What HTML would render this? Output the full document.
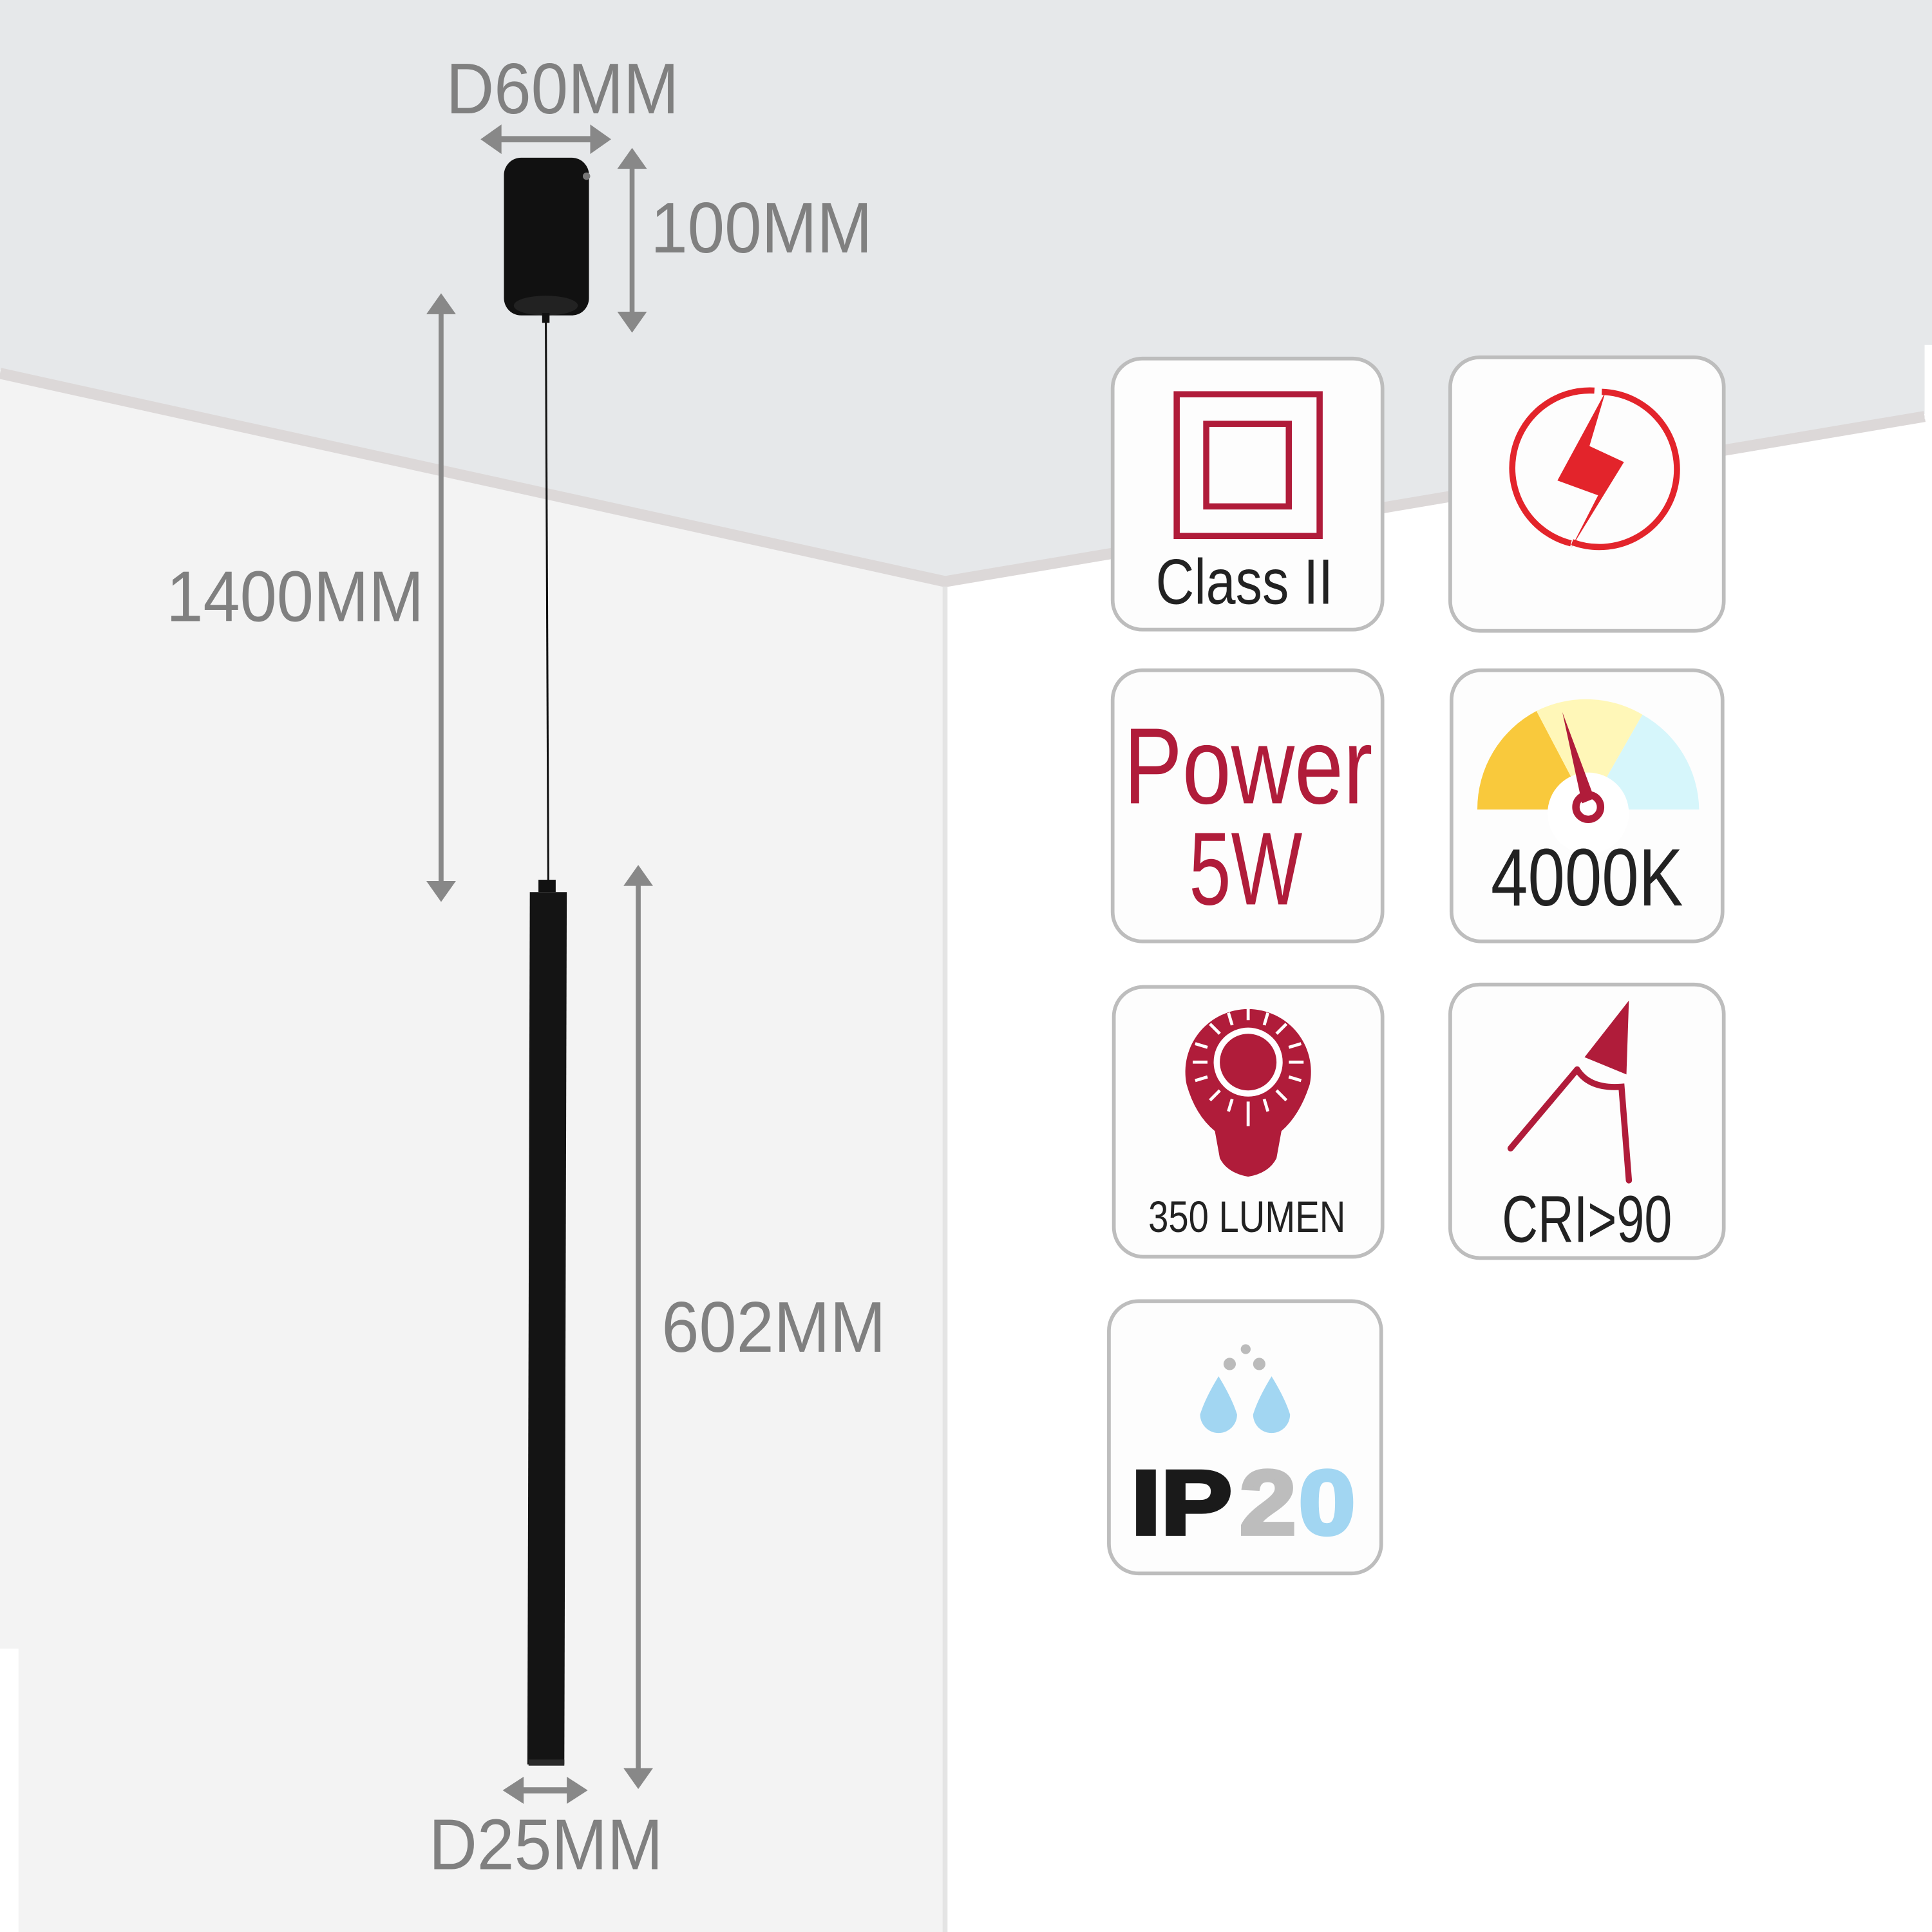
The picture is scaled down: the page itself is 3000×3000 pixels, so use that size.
<!DOCTYPE html>
<html><head><style>html,body{margin:0;padding:0;background:#fff}svg{display:block}</style></head><body>
<svg xmlns="http://www.w3.org/2000/svg" width="3000" height="3000" viewBox="0 0 1568 1568">
<rect width="1568" height="1568" fill="#ffffff"/>
<polygon points="0,0 1568,0 1568,335 767,470 0,300" fill="#e6e8ea"/>
<polygon points="0,300 767,470 767,1568 0,1568" fill="#f3f3f3"/>
<polyline points="0,303 767,472 1562,338" fill="none" stroke="#dcd8d8" stroke-width="9"/>
<line x1="767" y1="476" x2="767" y2="1568" stroke="#e4e4e4" stroke-width="4"/>
<rect x="1562" y="280" width="6" height="60" fill="#fff"/>
<rect x="0" y="1338" width="15" height="230" fill="#fff"/>

<!-- lamp -->
<rect x="409" y="128" width="69" height="128" rx="14" fill="#111"/>
<circle cx="476" cy="143" r="3" fill="#777"/>
<ellipse cx="443" cy="248" rx="26" ry="8" fill="#222"/>
<rect x="440" y="254" width="6" height="8" fill="#111"/>
<line x1="443" y1="260" x2="445" y2="716" stroke="#111" stroke-width="1.6"/>
<rect x="437" y="714" width="14" height="10" fill="#111"/>
<polygon points="430,724 460,724 458,1432 428,1432" fill="#141414"/>
<rect x="429" y="1428" width="29" height="5" fill="#2a2a2a"/>

<!-- arrows -->
<g fill="#888" stroke="#888">
<line x1="400" y1="113" x2="486" y2="113" stroke-width="5"/>
<polygon points="390,113 407,101 407,125" stroke="none"/><polygon points="496,113 479,101 479,125" stroke="none"/>
<line x1="513" y1="132" x2="513" y2="258" stroke-width="4"/>
<polygon points="513,120 501,137 525,137" stroke="none"/><polygon points="513,270 501,253 525,253" stroke="none"/>
<line x1="358" y1="250" x2="358" y2="720" stroke-width="4"/>
<polygon points="358,238 346,255 370,255" stroke="none"/><polygon points="358,732 346,715 370,715" stroke="none"/>
<line x1="518" y1="714" x2="518" y2="1440" stroke-width="4"/>
<polygon points="518,702 506,719 530,719" stroke="none"/><polygon points="518,1452 506,1435 530,1435" stroke="none"/>
<line x1="418" y1="1453" x2="467" y2="1453" stroke-width="5"/>
<polygon points="408,1453 425,1442 425,1464" stroke="none"/><polygon points="477,1453 460,1442 460,1464" stroke="none"/>
</g>
<g fill="#808080" font-family="Liberation Sans Narrow, Liberation Sans, sans-serif" font-size="58">
<text x="362" y="92" textLength="189" lengthAdjust="spacingAndGlyphs">D60MM</text>
<text x="528" y="205" textLength="180" lengthAdjust="spacingAndGlyphs">100MM</text>
<text x="135" y="504" textLength="209" lengthAdjust="spacingAndGlyphs">1400MM</text>
<text x="537" y="1097" textLength="182" lengthAdjust="spacingAndGlyphs">602MM</text>
<text x="348" y="1517" textLength="190" lengthAdjust="spacingAndGlyphs">D25MM</text>
</g>

<!-- cards -->
<g fill="#fdfdfd" stroke="#bdbdbd" stroke-width="3">
<rect x="903" y="291" width="219" height="220" rx="24"/>
<rect x="1177" y="290" width="222" height="222" rx="24"/>
<rect x="903" y="544" width="219" height="220" rx="24"/>
<rect x="1178" y="544" width="220" height="220" rx="24"/>
<rect x="904" y="801" width="218" height="219" rx="24"/>
<rect x="1177" y="799" width="222" height="222" rx="24"/>
<rect x="900" y="1056" width="221" height="221" rx="24"/>
</g>

<!-- class II -->
<rect x="955" y="320" width="116" height="115" fill="none" stroke="#b01c3a" stroke-width="5"/>
<rect x="979" y="344" width="67" height="67" fill="none" stroke="#b01c3a" stroke-width="5"/>
<text x="1010" y="490" text-anchor="middle" font-family="Liberation Sans Narrow, Liberation Sans, sans-serif" font-size="52" fill="#222" textLength="144" lengthAdjust="spacingAndGlyphs">Class II</text>

<!-- bolt -->
<path d="M1300,318 A63,63 0 1,1 1276,440" fill="none" stroke="#e3242b" stroke-width="5"/>
<path d="M1275,441 A63,63 0 0,1 1294,317" fill="none" stroke="#e3242b" stroke-width="5"/>
<polygon points="1303,318 1264,390 1297,402 1275,445 1318,375 1290,362" fill="#e3242b"/>

<!-- power -->
<g font-family="Liberation Sans Narrow, Liberation Sans, sans-serif" fill="#b01c3a" text-anchor="middle">
<text x="1013" y="652" font-size="88" textLength="202" lengthAdjust="spacingAndGlyphs">Power</text>
<text x="1011" y="734" font-size="84" textLength="92" lengthAdjust="spacingAndGlyphs">5W</text>
</g>

<!-- gauge -->
<path d="M1289,657 L1199,657 A90,90 0 0,1 1247,577 Z" fill="#f9c93c"/>
<path d="M1289,657 L1247,577 A90,90 0 0,1 1333,580 Z" fill="#fff7b8"/>
<path d="M1289,657 L1333,580 A90,90 0 0,1 1379,657 Z" fill="#d6f6fb"/>
<circle cx="1289" cy="660" r="33" fill="#fff"/>
<polygon points="1268,578 1294,648 1284,652" fill="#b01c3a"/>
<circle cx="1289" cy="655" r="10" fill="none" stroke="#b01c3a" stroke-width="6"/>
<text x="1288" y="735" text-anchor="middle" font-family="Liberation Sans Narrow, Liberation Sans, sans-serif" font-size="66" fill="#222" textLength="156" lengthAdjust="spacingAndGlyphs">4000K</text>

<!-- lumen -->
<path d="M963,880 A51,51 0 1,1 1063,880 Q1055,905 1040,918 L1036,940 Q1030,952 1013,955 Q996,952 990,940 L986,918 Q970,905 963,880 Z" fill="#b01c3a"/>
<g stroke="#fff" stroke-width="2.5">
<line x1="1013" y1="818" x2="1013" y2="828"/><line x1="1013" y1="894" x2="1013" y2="914"/>
<line x1="968" y1="862" x2="980" y2="862"/><line x1="1046" y1="862" x2="1058" y2="862"/>
<line x1="982" y1="831" x2="990" y2="839"/><line x1="1044" y1="831" x2="1036" y2="839"/>
<line x1="982" y1="893" x2="990" y2="885"/><line x1="1044" y1="893" x2="1036" y2="885"/>
<line x1="997" y1="822" x2="1000" y2="832"/><line x1="1029" y1="822" x2="1026" y2="832"/>
<line x1="970" y1="847" x2="980" y2="850"/><line x1="1056" y1="847" x2="1046" y2="850"/>
<line x1="970" y1="877" x2="980" y2="874"/><line x1="1056" y1="877" x2="1046" y2="874"/>
<line x1="997" y1="902" x2="1000" y2="892"/><line x1="1029" y1="902" x2="1026" y2="892"/>
</g>
<circle cx="1013" cy="862" r="28" fill="#fff"/>
<circle cx="1013" cy="862" r="23" fill="#b01c3a"/>
<text x="1012" y="1000" text-anchor="middle" font-family="Liberation Sans Narrow, Liberation Sans, sans-serif" font-size="36" fill="#222" textLength="160" lengthAdjust="spacingAndGlyphs">350 LUMEN</text>

<!-- CRI -->
<polyline points="1226,932 1280,868" fill="none" stroke="#b01c3a" stroke-width="5" stroke-linecap="round"/>
<path d="M1280,868 Q1290,884 1316,882 L1322,958" fill="none" stroke="#b01c3a" stroke-width="5" stroke-linecap="round"/>
<polygon points="1286,858 1322,812 1320,872 Q1296,872 1286,858" fill="#b01c3a"/>
<text x="1288" y="1008" text-anchor="middle" font-family="Liberation Sans Narrow, Liberation Sans, sans-serif" font-size="54" fill="#222" textLength="138" lengthAdjust="spacingAndGlyphs">CRI&gt;90</text>

<!-- IP20 -->
<circle cx="1011" cy="1095" r="4" fill="#bbb"/><circle cx="998" cy="1107" r="5" fill="#bbb"/><circle cx="1022" cy="1107" r="5" fill="#bbb"/>
<path d="M989,1117 Q978,1135 974,1148 A15,15 0 0,0 1004,1148 Q1000,1135 989,1117 Z" fill="#a2d6f2"/>
<path d="M1032,1117 Q1021,1135 1017,1148 A15,15 0 0,0 1047,1148 Q1043,1135 1032,1117 Z" fill="#a2d6f2"/>
<g font-family="Liberation Sans, sans-serif" font-weight="bold" font-size="74" stroke-width="3">
<text x="918" y="1245" fill="#1a1a1a" stroke="#1a1a1a" textLength="82" lengthAdjust="spacingAndGlyphs">IP</text>
<text x="1006" y="1245" fill="#bdbdbd" stroke="#bdbdbd" textLength="46" lengthAdjust="spacingAndGlyphs">2</text>
<text x="1054" y="1245" fill="#a2d6f2" stroke="#a2d6f2" textLength="46" lengthAdjust="spacingAndGlyphs">0</text>
</g>
</svg>
</body></html>
